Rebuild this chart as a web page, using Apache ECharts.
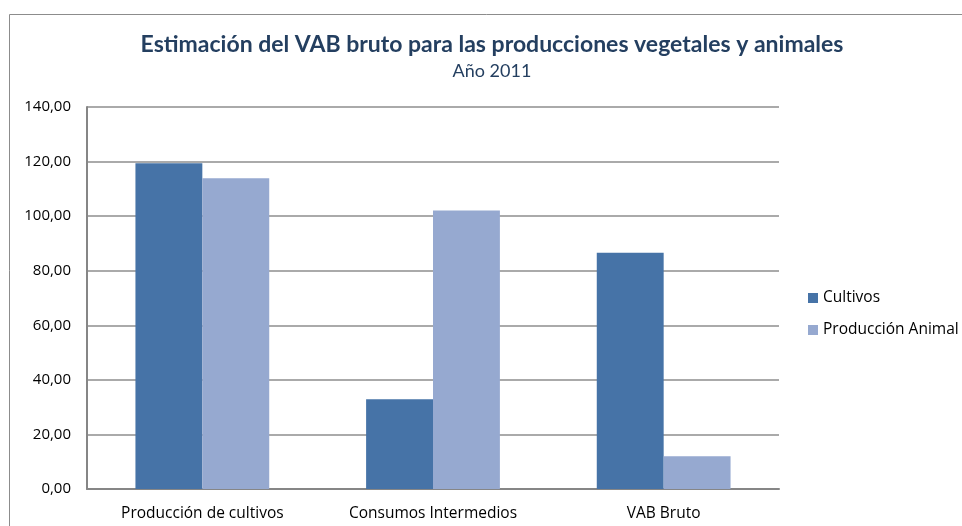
<!DOCTYPE html>
<html>
<head>
<meta charset="utf-8">
<script src="https://cdn.jsdelivr.net/npm/echarts@6/dist/echarts.min.js"></script>
<style>
  html, body { margin: 0; padding: 0; background: #fff; }
  #chart { width: 962px; height: 526px; }
</style>
</head>
<body>
<div id="chart"></div>
<script>
var categories = ['Producción de cultivos', 'Consumos Intermedios', 'VAB Bruto'];
var seriesNames = ['Cultivos', 'Producción Animal'];
var cultivos = [119.4, 32.9, 86.6];
var animal = [113.9, 102.1, 12.0];
var yMax = 140;
var yStep = 20;

var chart = echarts.init(document.getElementById('chart'));
var labelFont = 'Open Sans';

var option = {
    backgroundColor: '#ffffff',
    animation: false,
    graphic: [{
        type: 'rect',
        shape: { x: 9.5, y: 14.5, width: 1000, height: 600 },
        style: { fill: 'none', stroke: '#8c8c8c', lineWidth: 1 },
        silent: true
    }],
    title: {
        text: 'Estimación del VAB bruto para las producciones vegetales y animales',
        subtext: 'Año 2011',
        left: 487,          // centro del texto en x≈492
        textAlign: 'center',
        top: 28,
        itemGap: 6,
        textStyle: {
            fontFamily: 'Lato',
            fontWeight: 'bold',
            fontSize: 23,
            color: '#243f60'
        },
        subtextStyle: {
            fontFamily: 'Lato',
            fontSize: 18,
            color: '#243f60'
        }
    },
    legend: {
        orient: 'vertical',
        left: 803,
        top: 285,
        itemWidth: 10,
        itemHeight: 10,
        itemGap: 16,
        icon: 'rect',
        textStyle: { fontFamily: labelFont, fontSize: 15.5, color: '#000' },
        data: seriesNames
    },
    grid: {
        left: 87,
        right: 183,
        top: 107,
        bottom: 37
    },
    xAxis: {
        type: 'category',
        data: categories,
        axisTick: { show: false },
        axisLine: { lineStyle: { color: '#868686', width: 2 } },
        axisLabel: { fontFamily: labelFont, fontSize: 15.5, color: '#000', margin: 17 }
    },
    yAxis: {
        type: 'value',
        min: 0,
        max: yMax,
        interval: yStep,
        axisLine: { show: true, lineStyle: { color: '#868686', width: 2 } },
        axisTick: { show: false },
        splitLine: { lineStyle: { color: '#8e8e8e', width: 1.5 } },
        axisLabel: {
            fontFamily: labelFont,
            fontSize: 15,
            color: '#000',
            margin: 16,
            formatter: function (v) { return v.toFixed(2).replace('.', ','); }
        }
    },
    series: [{
        name: seriesNames[0],
        type: 'bar',
        data: cultivos,
        barGap: '0%',
        barCategoryGap: '42%',
        itemStyle: { color: '#4673a7' }
    }, {
        name: seriesNames[1],
        type: 'bar',
        data: animal,
        itemStyle: { color: '#96a9d0' }
    }]
};

chart.setOption(option);
</script>
</body>
</html>
